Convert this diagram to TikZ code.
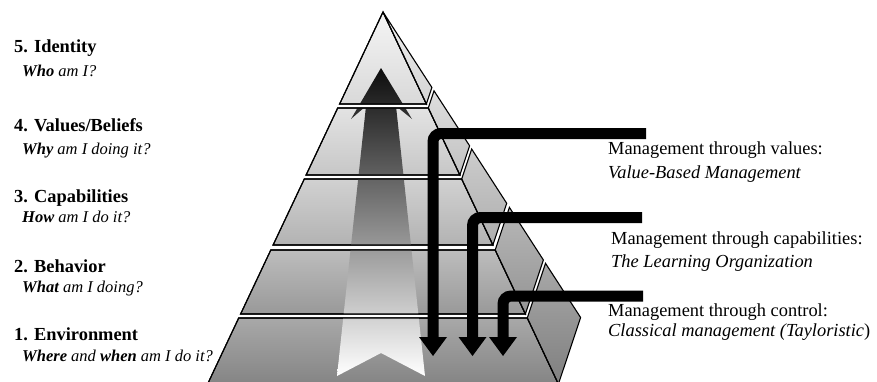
\documentclass[tikz,border=0pt]{standalone}
\usepackage{fontspec}
\setmainfont{Liberation Serif}
\begin{document}
\begin{tikzpicture}[x=1pt,y=-1pt,
  title/.style={anchor=base west, inner sep=0pt, font=\fontsize{18.4}{22}\selectfont\bfseries},
  sub/.style={anchor=base west, inner sep=0pt, font=\fontsize{16.5}{20}\selectfont\itshape},
  mlabel/.style={anchor=base west, inner sep=0pt, font=\fontsize{18.4}{22}\selectfont},
  mital/.style={anchor=base west, inner sep=0pt, font=\fontsize{18.4}{22}\selectfont\itshape},
  slab/.style={draw=black, line width=1.1pt, line join=miter},
  bar/.style={draw=black, line width=11pt, rounded corners=8pt},
  head/.style={fill=black}]
\useasboundingbox (0,0) rectangle (877,381);
\clip (0,0) rectangle (877,381);

% ---- pyramid slabs: front faces and side faces ----
% Level 5 (top)
\path[slab, top color=black!4, bottom color=black!15] (383,12) -- (426.4,104) -- (339.6,104) -- cycle;
\path[slab, top color=black!6, bottom color=black!17] (383,12) -- (431.9,87.5) -- (426.4,104) -- cycle;
% Level 4
\path[slab, top color=black!11, bottom color=black!22] (337.7,108) -- (428.3,108) -- (459.9,175) -- (306.1,175) -- cycle;
\path[slab, top color=black!13, bottom color=black!24] (428.3,108) -- (434.0,90.8) -- (469.6,145.8) -- (459.9,175) -- cycle;
% Level 3
\path[slab, top color=black!18, bottom color=black!30] (304.3,179) -- (461.7,179) -- (492.9,245) -- (273.1,245) -- cycle;
\path[slab, top color=black!20, bottom color=black!32] (461.7,179) -- (471.7,149.1) -- (506.7,203.3) -- (492.9,245) -- cycle;
% Level 2
\path[slab, top color=black!26, bottom color=black!40] (270.8,250) -- (495.2,250) -- (525.4,314) -- (240.6,314) -- cycle;
\path[slab, top color=black!28, bottom color=black!42] (495.2,250) -- (509.4,207.4) -- (543.4,260.0) -- (525.4,314) -- cycle;
% Level 1 (bottom)
\path[slab, top color=black!34, bottom color=black!48] (238.7,318) -- (527.3,318) -- (558.4,384) -- (207.6,384) -- cycle;
\path[slab, top color=black!34, bottom color=black!50] (527.3,318) -- (545.5,263.3) -- (580.6,317.5) -- (558.4,384) -- cycle;

% ---- central upward arrow, clipped to the front faces ----
\begin{scope}
\clip (383,12) -- (426.4,104) -- (339.6,104) -- cycle
      (337.7,108) -- (428.3,108) -- (459.9,175) -- (306.1,175) -- cycle
      (304.3,179) -- (461.7,179) -- (492.9,245) -- (273.1,245) -- cycle
      (270.8,250) -- (495.2,250) -- (525.4,314) -- (240.6,314) -- cycle
      (238.7,318) -- (527.3,318) -- (558.4,384) -- (207.6,384) -- cycle;
\shade[top color=black!95, middle color=black!62, bottom color=white]
  (381,68) -- (412,119) -- (396,106) -- (425,376) -- (381,353) -- (337,376) -- (366,106) -- (351,119) -- cycle;
\end{scope}
% redraw front outlines over the arrow
\draw[slab] (383,12) -- (426.4,104) -- (339.6,104) -- cycle;
\draw[slab] (337.7,108) -- (428.3,108) -- (459.9,175) -- (306.1,175) -- cycle;
\draw[slab] (304.3,179) -- (461.7,179) -- (492.9,245) -- (273.1,245) -- cycle;
\draw[slab] (270.8,250) -- (495.2,250) -- (525.4,314) -- (240.6,314) -- cycle;
\draw[slab] (238.7,318) -- (527.3,318) -- (558.4,384) -- (207.6,384) -- cycle;

% ---- left labels ----
\node[title] (t5) at (14,52) {5. Identity};
\node[sub]   (s5) at (22,76) {\textbf{Who} am I?};
\node[title] (t4) at (14,131) {4. Values/Beliefs};
\node[sub]   (s4) at (22,154) {\textbf{Why} am I doing it?};
\node[title] (t3) at (14,202) {3. Capabilities};
\node[sub]   (s3) at (22,222) {\textbf{How} am I do it?};
\node[title] (t2) at (14,272) {2. Behavior};
\node[sub]   (s2) at (22,292) {\textbf{What} am I doing?};
\node[title] (t1) at (14,340) {1. Environment};
\node[sub]   (s1) at (22,361) {\textbf{Where} and \textbf{when} am I do it?};

% ---- right labels ----
\node[mlabel] (mv)  at (608,154) {Management through values:};
\node[mital]  (mvi) at (608,178) {Value-Based Management};
\node[mlabel] (mc)  at (611,244) {Management through capabilities:};
\node[mital]  (mci) at (611,267) {The Learning Organization};
\node[mlabel] (mt)  at (608,316) {Management through control:};
\node[mital]  (mti) at (608,336) {Classical management (Tayloristic\upshape)};

% ---- L-shaped management arrows ----
\coordinate (b1s) at (646,133.5); \coordinate (b1c) at (433,133.5); \coordinate (b1e) at (433,338);
\coordinate (h1l) at (419,337); \coordinate (h1r) at (447,337); \coordinate (h1t) at (433,356);
\coordinate (b2s) at (642,217.5); \coordinate (b2c) at (472.5,217.5); \coordinate (b2e) at (472.5,338);
\coordinate (h2l) at (458.5,337); \coordinate (h2r) at (486.5,337); \coordinate (h2t) at (472.5,356);
\coordinate (b3s) at (643,296); \coordinate (b3c) at (503,296); \coordinate (b3e) at (503,338);
\coordinate (h3l) at (489,337); \coordinate (h3r) at (517,337); \coordinate (h3t) at (503,356);
\draw[bar] (b1s) -- (b1c) -- (b1e);
\fill[head] (h1l) -- (h1r) -- (h1t) -- cycle;
\draw[bar] (b2s) -- (b2c) -- (b2e);
\fill[head] (h2l) -- (h2r) -- (h2t) -- cycle;
\draw[bar] (b3s) -- (b3c) -- (b3e);
\fill[head] (h3l) -- (h3r) -- (h3t) -- cycle;
\end{tikzpicture}
\end{document}
